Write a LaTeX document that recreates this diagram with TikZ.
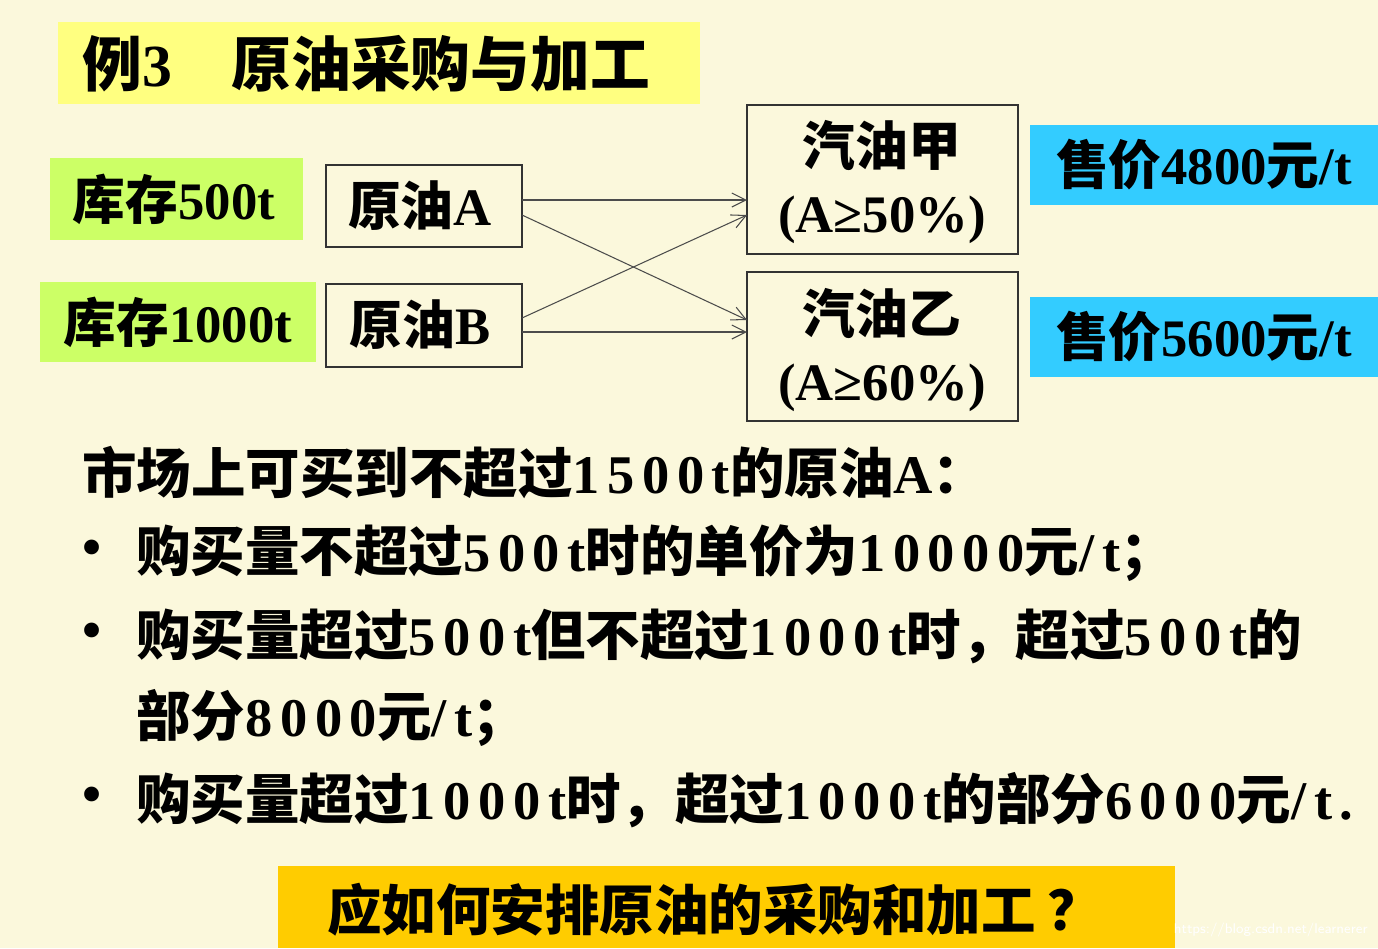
\documentclass[tikz,border=0pt]{standalone}
\usepackage{fontspec}
\setmainfont{Liberation Serif}
\newfontfamily\bodyfont{Liberation Serif}[LetterSpace=14]
\newfontfamily\cjk{Noto Sans CJK SC}
\usetikzlibrary{arrows.meta}
\definecolor{bg}{HTML}{FBF8DC}
\definecolor{ttl}{HTML}{FFFF80}
\definecolor{grn}{HTML}{CCFF66}
\definecolor{cyn}{HTML}{33CCFF}
\definecolor{org}{HTML}{FFCC00}
\tikzset{
 lbl/.style={font=\fontsize{30}{38}\selectfont\bfseries, inner sep=0pt},
 box/.style={draw=black!80, line width=1pt},
 arr/.style={draw=black!70, line width=0.6pt, -{Straight Barb[length=8pt,width=8pt]}},
 body/.style={font=\fontsize{31}{34}\selectfont\bodyfont\bfseries, anchor=west, inner sep=0pt}
}
\begin{document}
\begin{tikzpicture}[x=0.02cm,y=-0.02cm]
\fill[bg] (0,0) rectangle (1378,948);
\useasboundingbox (0,0) rectangle (1378,948);
\fill[ttl] (58,22) rectangle (700,104);
\node[anchor=west,font=\fontsize{34}{36}\selectfont\bfseries,inner sep=0pt] (title) at (82,64) {{\cjk 例}3\quad{\cjk 原油采购与加工}};
\fill[grn] (50,158) rectangle (303,240);
\node[lbl] (s1) at (174,199) {{\cjk 库存}500t};
\fill[grn] (40,282) rectangle (316,362);
\node[lbl] (s2) at (178,322) {{\cjk 库存}1000t};
\draw[box] (326,165) rectangle (522,247);
\node[lbl] (A) at (420,206) {{\cjk 原油}A};
\draw[box] (326,284) rectangle (522,367);
\node[lbl] (B) at (420,325) {{\cjk 原油}B};
\draw[box] (747,105) rectangle (1018,254);
\node[lbl,align=center] (G1) at (882,182) {{\cjk 汽油甲}\\(A≥50\%)};
\draw[box] (747,272) rectangle (1018,421);
\node[lbl,align=center] (G2) at (882,350) {{\cjk 汽油乙}\\(A≥60\%)};
\fill[cyn] (1030,125) rectangle (1378,205);
\node[lbl] (p1) at (1204,165) {{\cjk 售价}4800{\cjk 元}/t};
\fill[cyn] (1030,297) rectangle (1378,377);
\node[lbl] (p2) at (1204,337) {{\cjk 售价}5600{\cjk 元}/t};
\coordinate (a1) at (522,200); \coordinate (a2) at (522,215);
\coordinate (b1) at (522,318); \coordinate (b2) at (522,332);
\coordinate (g1a) at (747,200); \coordinate (g1b) at (747,215);
\coordinate (g2a) at (747,320); \coordinate (g2b) at (747,332);
\draw[arr] (a1) -- (g1a);
\draw[arr] (a2) -- (g2a);
\draw[arr] (b1) -- (g1b);
\draw[arr] (b2) -- (g2b);
\node[body] (t1) at (82,473) {{\cjk 市场上可买到不超过}1500t{\cjk 的原油}A{\cjk ：}};
\node[body] (d1) at (82,553) {•};
\node[body] (t2) at (136,553) {{\cjk 购买量不超过}500t{\cjk 时的单价为}10000{\cjk 元}/t{\cjk ；}};
\node[body] (d2) at (82,636) {•};
\node[body] (t3) at (136,636) {{\cjk 购买量超过}500t{\cjk 但不超过}1000t{\cjk 时，超过}500t{\cjk 的}};
\node[body] (t4) at (136,718) {{\cjk 部分}8000{\cjk 元}/t{\cjk ；}};
\node[body] (d3) at (82,800) {•};
\node[body] (t5) at (136,800) {{\cjk 购买量超过}1000t{\cjk 时，超过}1000t{\cjk 的部分}6000{\cjk 元}/t.};
\fill[org] (278,866) rectangle (1175,948);
\node[font=\fontsize{31}{34}\selectfont\bfseries,inner sep=0pt] (q) at (715,910) {{\cjk 应如何安排原油的采购和加工 ？}};
\node[font=\fontsize{8}{9}\selectfont\sffamily,text=white,anchor=east,inner sep=0pt] (w) at (1368,930) {https://blog.csdn.net/learnerer};
\end{tikzpicture}
\end{document}
